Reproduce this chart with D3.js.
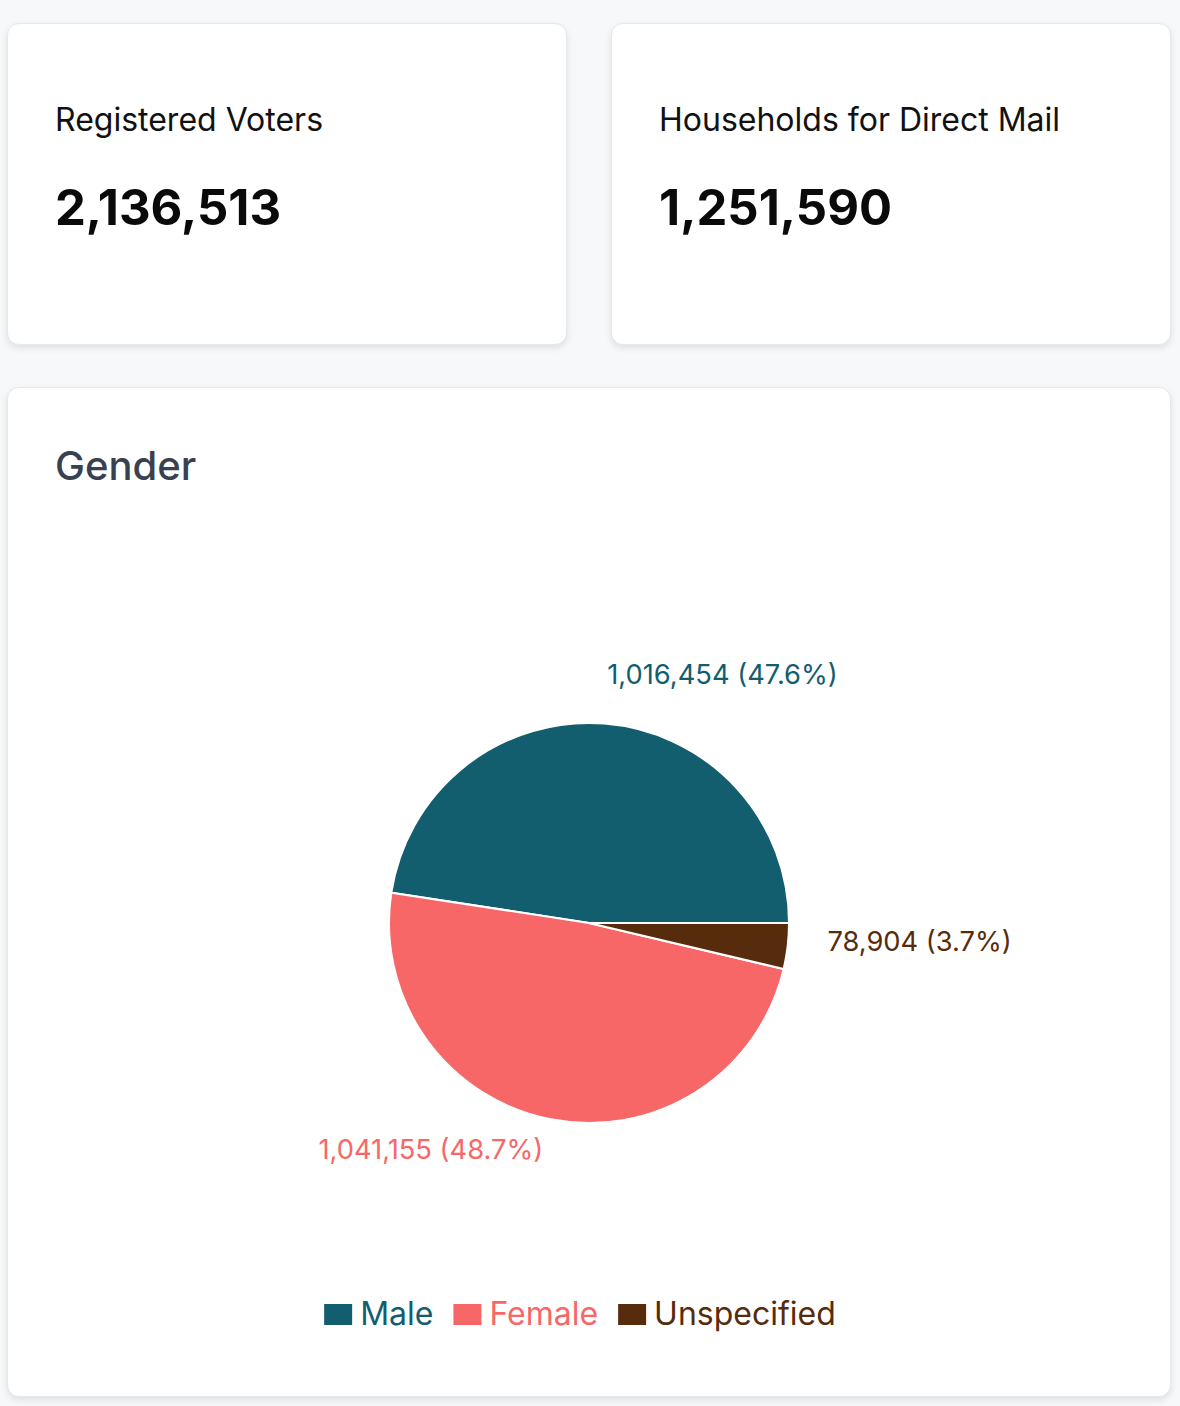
<!DOCTYPE html>
<html>
<head>
<meta charset="utf-8">
<script src="https://cdn.jsdelivr.net/npm/d3@7"></script>
<style>
  html, body { margin: 0; padding: 0; background: #f7f8fa; font-family: Inter, "Noto Sans", sans-serif; }
  body { width: 1180px; height: 1406px; position: relative; overflow: hidden; }
  .card { position: absolute; background: #fff; border: 1px solid #e6e8eb; border-radius: 12px;
          box-shadow: 0 3px 7px rgba(0,0,0,0.10); box-sizing: border-box; }
  .stat-label { position: absolute; left: 47px; font-size: 32px; color: #111; }
  .stat-value { position: absolute; left: 47px; font-size: 49px; font-weight: 700; color: #0a0a0a; }
  .title { position: absolute; left: 47px; font-size: 40px; font-weight: 500; color: #374151; }
</style>
</head>
<body>
<script>
// ---- data ----
const statLabels = ["Registered Voters", "Households for Direct Mail"];
const statValues = [2136513, 1251590];

const chartTitle = "Gender";
const categories = ["Male", "Female", "Unspecified"];
const values = [1016454, 1041155, 78904];
const colors = ["#135e6e", "#f76767", "#572c0c"];

// ---- layout ----
const fmt = d3.format(",");
const pct = d3.format(".1%");
const body = d3.select("body");

const statCards = [
  {x: 7, y: 23, w: 560, h: 322},
  {x: 611, y: 23, w: 560, h: 322}
];
statCards.forEach((c, i) => {
  const card = body.append("div").attr("class", "card")
    .style("left", c.x + "px").style("top", c.y + "px")
    .style("width", c.w + "px").style("height", c.h + "px");
  card.append("div").attr("class", "stat-label").style("top", "76px").text(statLabels[i]);
  card.append("div").attr("class", "stat-value").style("top", "154px").text(fmt(statValues[i]));
});

const chartCard = {x: 7, y: 387, w: 1164, h: 1010};
const card = body.append("div").attr("class", "card")
  .style("left", chartCard.x + "px").style("top", chartCard.y + "px")
  .style("width", chartCard.w + "px").style("height", chartCard.h + "px");
card.append("div").attr("class", "title").style("top", "53px").text(chartTitle);

const svg = card.append("svg")
  .attr("width", chartCard.w).attr("height", chartCard.h)
  .style("position", "absolute").style("left", "-1px").style("top", "-1px");

const cx = chartCard.w / 2, cy = 536, r = 200;
const total = d3.sum(values);
const color = d3.scaleOrdinal().domain(categories).range(colors);

const pie = d3.pie().sort(null).value(d => d.value)
  .startAngle(Math.PI / 2).endAngle(Math.PI / 2 - 2 * Math.PI);
const data = categories.map((c, i) => ({name: c, value: values[i]}));
const arcs = pie(data);
const arc = d3.arc().innerRadius(0).outerRadius(r);

const g = svg.append("g").attr("transform", `translate(${cx},${cy})`);
g.selectAll("path").data(arcs).join("path")
  .attr("d", arc)
  .attr("fill", d => color(d.data.name))
  .attr("stroke", "#fff").attr("stroke-width", 2);

const labelR = r * 1.2;
g.selectAll("text.lbl").data(arcs).join("text")
  .attr("class", "lbl")
  .each(function(d) {
    const a = (d.startAngle + d.endAngle) / 2;
    const x = labelR * Math.sin(a), y = -labelR * Math.cos(a);
    d3.select(this).attr("x", x).attr("y", y)
      .attr("text-anchor", x > 0 ? "start" : "end");
  })
  .attr("fill", d => color(d.data.name))
  .style("font-size", "27.3px")
  .text(d => `${fmt(d.value)} (${pct(d.value / total)})`);

// ---- legend ----
const legendY = 938; // text baseline in card coords
const legend = svg.append("g");
const items = legend.selectAll("g").data(categories).join("g");
items.append("rect")
  .attr("width", 28).attr("height", 21)
  .attr("y", legendY - 21)
  .attr("fill", d => color(d));
items.append("text")
  .attr("x", 36).attr("y", legendY)
  .attr("fill", d => color(d))
  .style("font-size", "32px")
  .text(d => d);
let widths = [];
items.each(function() {
  const t = d3.select(this).select("text").node();
  widths.push(36 + t.getComputedTextLength() + 20);
});
const totalW = d3.sum(widths);
let lx = cx - totalW / 2 + 1;
items.attr("transform", (d, i) => {
  const t = `translate(${lx},0)`;
  lx += widths[i];
  return t;
});
</script>
</body>
</html>
